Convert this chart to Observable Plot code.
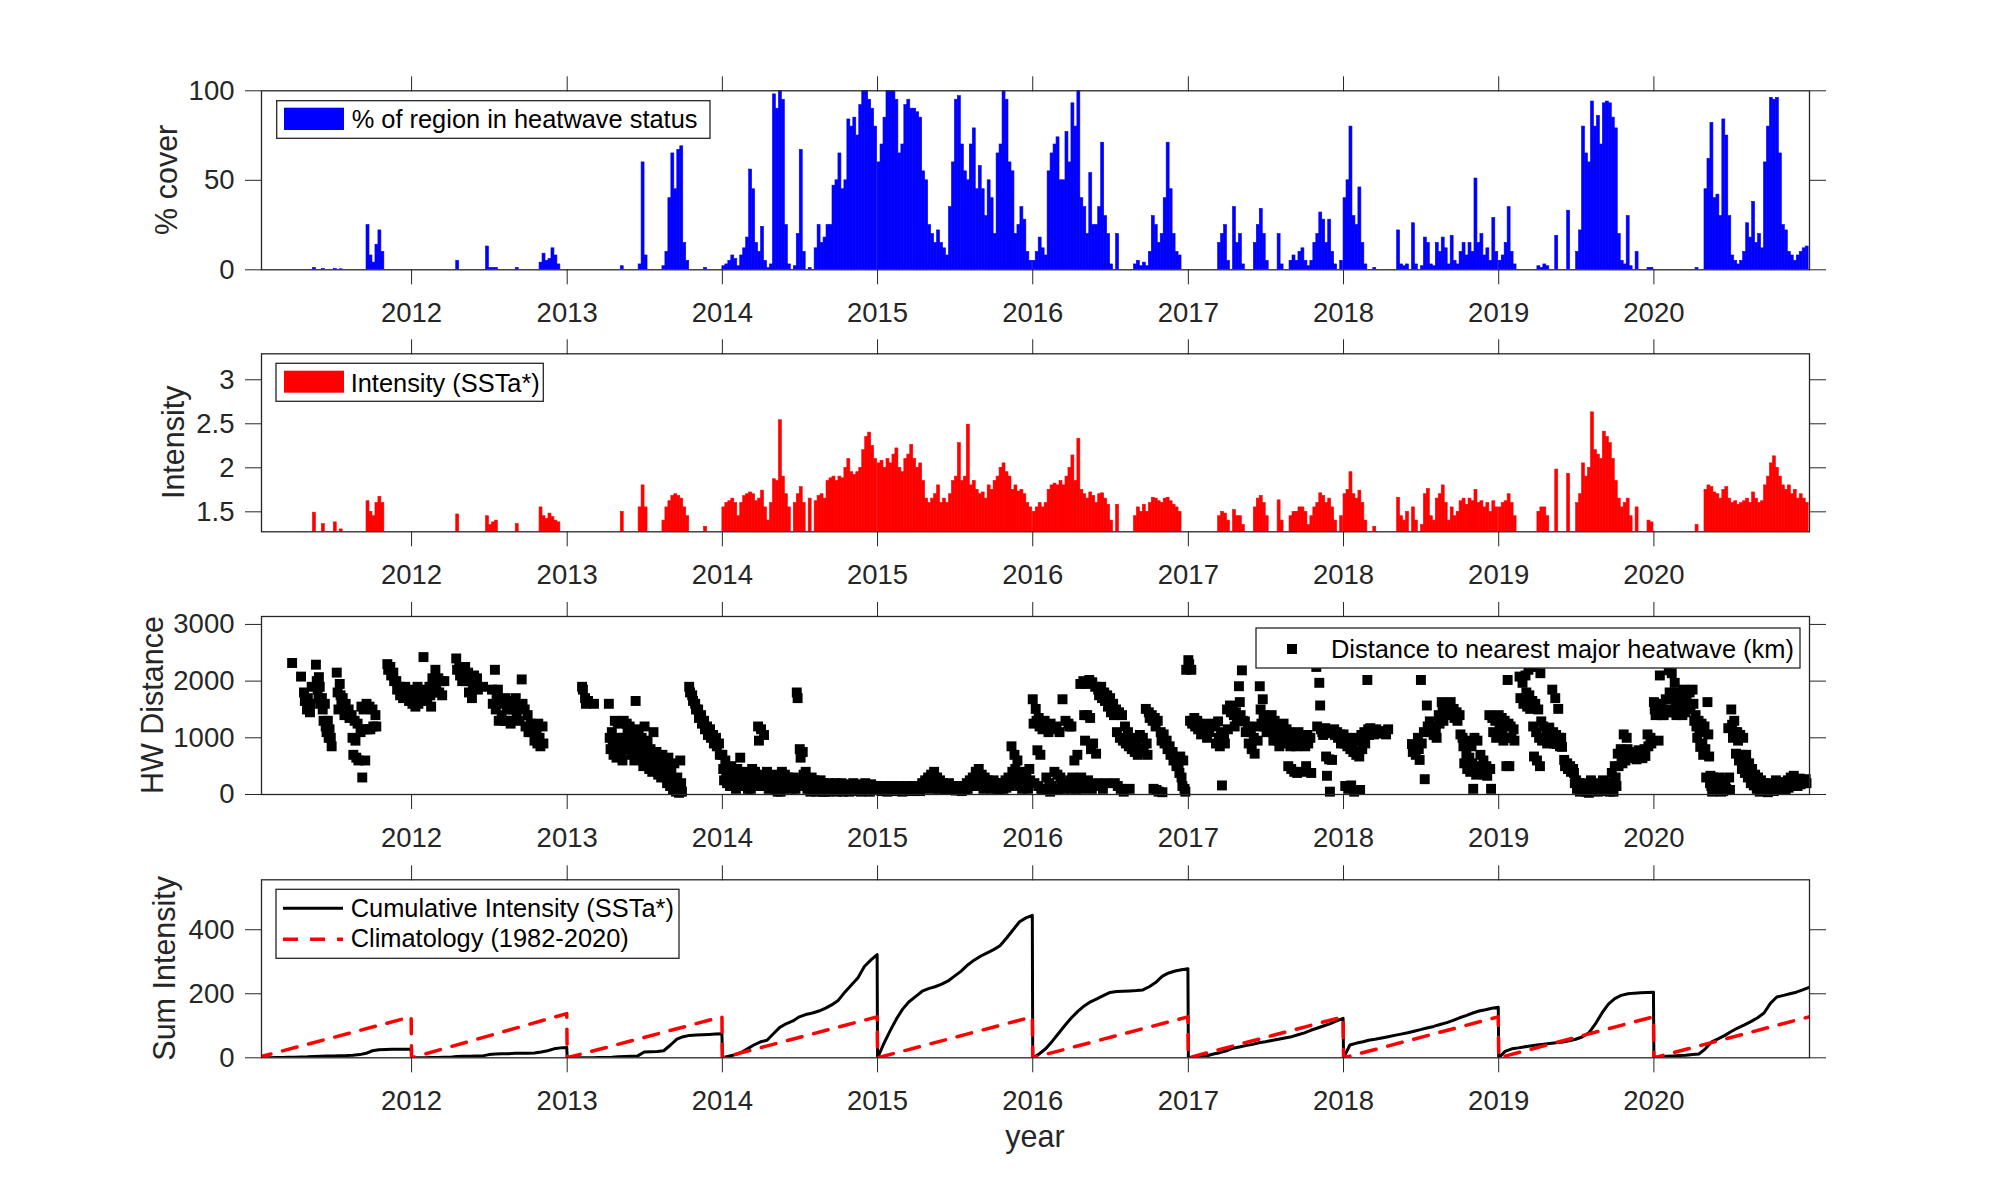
<!DOCTYPE html>
<html><head><meta charset="utf-8">
<script src="https://cdn.jsdelivr.net/npm/d3@7"></script>
<script src="https://cdn.jsdelivr.net/npm/@observablehq/plot@0.6"></script>
<style>
body{margin:0;background:#fff;}
#wrap{position:relative;width:2000px;height:1200px;font-family:"Liberation Sans",Arial,Helvetica,sans-serif;}
#wrap svg{position:absolute;left:0;top:0;}
</style></head><body><div id="wrap"></div>
<script>
// ---------- DATA (weekly values) ----------
const years = [2011,2012,2013,2014,2015,2016,2017,2018,2019,2020];
const tickYears = [2012,2013,2014,2015,2016,2017,2018,2019,2020];

// % of region in heatwave status, weekly (52 weeks per year)
const cover2011 = [0,0,0,0,0,0,0,0,0,0, 0,0,0,0,0,0,0,0,0,1, 0,0,0.5,0,0,0,0.5,0,0.3,0, 0,0,0,0,0,0,0,25,8,4, 14,22,10,0,0,0,0,0,0,0, 0,0];
const cover2012 = [0,0,0,0,0,0,0,0,0,0, 0,0,0,0,0,5,0,0,0,0, 0,0,0,0,0,13,1,1,1,0, 0,0,0,0,0,1,0,0,0,0, 0,0,0,4,9,5,6,12,8,3, 0,0];
const cover2013 = [0,0,0,0,0,0,0,0,0,0, 0,0,0,0,0,0,0,0,2,0, 0,0,0,0,3,60,8,0,0,0, 0,0,2,10,40,65,45,67,69,15, 5,0,0,0,0,0,1,0,0,0, 0,0];
const cover2014 = [2,3,5,8,6,2,8,12,18,56, 45,15,10,24,5,1,3,98,90,100, 95,25,3,0,2,20,67,10,0,1, 0,12,25,15,18,25,25,47,50,65, 45,50,84,80,85,75,92,100,100,95, 90,80];
const cover2015 = [60,70,85,100,100,100,95,65,70,92, 95,90,90,88,85,55,50,25,20,15, 22,15,12,8,35,60,95,97,70,55, 50,70,79,45,58,45,30,50,40,20, 65,70,100,95,60,55,20,25,35,28, 10,5];
const cover2016 = [5,10,18,12,8,55,65,70,74,50, 50,77,60,93,80,100,40,35,20,54, 25,25,35,71,30,20,3,0,20,0, 0,0,0,0,3,5,2,4,2,10, 30,25,15,20,40,71,45,20,10,8, 0,0];
const cover2017 = [0,0,0,0,0,0,0,0,0,0, 15,20,25,5,0,35,15,20,3,0, 0,0,15,25,34,20,5,0,0,0, 20,3,0,0,5,8,5,10,12,5, 2,5,15,20,32,28,15,28,10,3, 0,5];
const cover2018 = [40,50,80,30,25,46,15,3,0,0, 1,0,0,0,0,0,0,0,22,3, 2,3,0,26,3,0,2,18,15,3, 2,15,10,18,12,3,19,5,3,10, 15,8,15,10,51,15,20,8,12,5, 29,10];
const cover2019 = [5,8,15,35,10,3,0,0,0,0, 0,0,0,2,1,3,2,0,0,19, 0,0,0,33,0,0,10,22,80,65, 60,94,80,86,70,93,94,93,85,79, 20,5,3,30,2,0,10,0,0,0, 1,1];
const cover2020 = [0,0,0,0,0,0,0,0,0,0, 0,0,0,0,1,0,0,45,62,82, 40,42,30,84,75,30,8,5,3,5, 10,26,18,38,15,20,12,60,80,96, 95,96,65,25,22,10,8,5,8,10, 12,13];

// Intensity (SSTa*), weekly
const int2011 = [0,0,0,0,0,0,0,0,0,0, 0,0,0,0,0,0,0,0,0,1.49, 0,0,1.36,0,0,0,1.38,0,1.3,0, 0,0,0,0,0,0,0,1.62,1.5,1.45, 1.6,1.67,1.6,0,0,0,0,0,0,0, 0,0];
const int2012 = [0,0,0,0,0,0,0,0,0,0, 0,0,0,0,0,1.47,0,0,0,0, 0,0,0,0,0,1.45,1.35,1.38,1.4,0, 0,0,0,0,0,1.36,0,0,0,0, 0,0,0,1.55,1.45,1.42,1.48,1.44,1.4,1.38, 0,0];
const int2013 = [0,0,0,0,0,0,0,0,0,0, 0,0,0,0,0,0,0,0,1.5,0, 0,0,0,0,1.55,1.8,1.55,0,0,0, 0,0,1.4,1.55,1.62,1.68,1.7,1.68,1.65,1.55, 1.45,0,0,0,0,0,1.33,0,0,0, 0,0];
const int2014 = [1.55,1.6,1.62,1.65,1.6,1.45,1.6,1.68,1.7,1.72, 1.7,1.62,1.65,1.74,1.55,1.4,1.6,1.87,1.85,2.54, 1.9,1.7,1.55,0,1.6,1.7,1.78,1.6,0,1.65, 0,1.62,1.68,1.7,1.65,1.85,1.88,1.9,1.85,1.9, 1.88,2.0,2.1,1.95,1.92,1.95,2.0,2.2,2.35,2.4, 2.25,2.1];
const int2015 = [2.05,2.08,2.0,2.1,2.05,2.15,2.22,2.0,1.95,2.1, 2.15,2.26,2.1,2.0,2.05,1.85,1.65,1.6,1.65,1.7, 1.8,1.6,1.65,1.6,1.7,1.85,1.9,2.28,1.85,1.9, 2.49,1.8,1.85,1.75,1.7,1.72,1.65,1.8,1.75,1.85, 1.9,2.0,2.05,1.95,1.9,1.75,1.8,1.73,1.75,1.7, 1.6,1.55];
const int2016 = [1.5,1.55,1.6,1.55,1.6,1.75,1.8,1.82,1.8,1.85, 1.8,1.9,2.0,2.14,1.85,2.33,1.75,1.7,1.65,1.72, 1.68,1.6,1.7,1.71,1.65,1.58,1.4,0,1.58,0, 0,0,0,0,1.45,1.55,1.5,1.58,1.5,1.6, 1.66,1.65,1.62,1.6,1.65,1.66,1.62,1.58,1.55,1.5, 0,0];
const int2017 = [0,0,0,0,0,0,0,0,0,0, 1.45,1.5,1.48,1.4,0,1.52,1.45,1.45,1.35,0, 0,0,1.55,1.65,1.68,1.6,1.45,0,0,0, 1.63,1.4,0,0,1.45,1.5,1.5,1.55,1.55,1.5, 1.35,1.45,1.55,1.6,1.71,1.68,1.6,1.65,1.55,1.4, 0,1.45];
const int2018 = [1.7,1.75,1.95,1.7,1.65,1.74,1.6,1.4,0,0, 1.33,0,0,0,0,0,0,0,1.66,1.45, 1.4,1.5,0,1.55,1.4,0,1.35,1.7,1.76,1.45, 1.4,1.65,1.7,1.8,1.6,1.4,1.55,1.45,1.5,1.62, 1.65,1.58,1.65,1.62,1.75,1.6,1.62,1.55,1.6,1.5, 1.62,1.55];
const int2019 = [1.55,1.6,1.62,1.7,1.6,1.45,0,0,0,0, 0,0,0,1.5,1.55,1.55,1.45,0,0,1.98, 0,0,0,1.93,0,0,1.6,1.7,2.05,1.9, 2.0,2.63,2.2,2.15,2.1,2.41,2.35,2.28,2.1,1.85, 1.65,1.55,1.6,1.65,1.45,0,1.55,0,0,0, 1.4,1.38];
const int2020 = [0,0,0,0,0,0,0,0,0,0, 0,0,0,0,1.35,0,0,1.75,1.8,1.78, 1.72,1.7,1.65,1.75,1.78,1.65,1.6,1.62,1.58,1.6, 1.62,1.65,1.6,1.72,1.65,1.6,1.62,1.8,1.9,2.05, 2.13,2.0,1.9,1.8,1.75,1.8,1.7,1.75,1.65,1.7, 1.65,1.6];

// Distance to nearest major heatwave (km): [week, values seen in that week...]
const dist2011 = [[12,2320],[15,2080],[16,1800,1650],[17,1500,1700],[18,1450,1600,1900],[20,2290,2000,1850,1700],[21,2070,1900,1600],[22,1700,1500,1300],[23,1600,1200,1100],[24,1300,1000,1150],[25,1000,850],[27,2150,1800,1500],[28,1950,1750,1600],[29,1700,1550,1400],[30,1600,1450],[31,1500,1350],[32,1400,1000,700],[33,1300,950,650],[34,1250,600],[35,1100,1550,300],[36,1500,1150,600],[37,1600,1150],[38,1550,1150],[39,1500,1200],[40,1400,1200],[44,2300,2200],[45,2250,2100],[46,2150,2000],[47,2000,1850],[48,1900,1750],[49,1850,1700],[50,1900,1750],[51,1800,1650]];
const dist2012 = [[0,1850,1600],[1,1750,1550],[2,1900,1600],[3,1800,1700],[4,2424,1750],[5,1850,1650],[6,1900,1750,1550],[7,2050,1800],[8,2200,1900],[9,2050,1800],[10,2000,1750],[11,2000],[15,2400,2200],[16,2250,2100],[17,2000,2150],[18,2250,2000],[19,2150,1800],[20,2000,1700,1900],[21,2100,1900],[22,2050,1850],[24,1900],[27,1850,1600],[28,2200,1500,1700],[29,1850,1300],[30,1650,1400],[31,1600,1300,1700],[32,1500,1300],[33,1650,1250],[34,1500],[35,1700,1400],[36,1550,1300],[37,2030,1600],[38,1500,1200],[39,1400,1100],[40,1250,1100],[41,1200,950],[42,1100,900,1250],[43,1000,850],[44,1200,900]];
const dist2013 = [[5,1900,1850],[6,1700,1600],[7,1650],[9,1600],[14,1600,1000,800],[15,1100,900,700],[16,1300,800,650],[17,1250,1000,700],[18,900,750,600],[19,1300,1000,800],[20,1250,1100,850],[21,1200,950,700],[22,1050,800,600],[23,1650,1000,750],[24,1150,850,650],[25,1000,700,500],[26,1200,800],[27,950,650,450],[28,800,600,400],[29,1100,700,550],[30,750,500,350],[31,600,450,300],[32,700,400],[33,500,300,200],[34,650,350,150],[35,400,200,80],[36,550,150,50],[37,300,100,30],[38,600,200,50],[41,1900,1800],[42,1750,1650],[43,1600,1500],[44,1500,1350],[45,1400,1250],[46,1300,1150],[47,1200,1050],[48,1150,1000],[49,1050,900],[50,1000,850],[51,900,700]];
const dist2014 = [[0,700,450,250],[1,600,350,200],[2,400,250,150],[3,500,300,150],[4,350,200,100],[5,450,250,150],[6,650,300,200],[7,400,250,150],[8,300,200,100],[9,350,200,100],[10,450,300,150],[11,400,250],[12,1200,950,300,150],[13,1150,350,200],[14,1050,250,150],[15,400,200,100],[16,300,150],[17,350,200,100],[18,250,150,50],[19,300,150,50],[20,400,200,100],[21,350,200],[22,300,150],[23,250,100],[24,300,200,100],[25,1800,1700,250],[26,800,650,200],[27,750,350,150],[28,400,200,100],[29,250,150,50],[30,300,150,80],[31,250,100,50],[32,200,100],[33,250,150,50],[34,200,100,50],[35,150,100,50],[36,200,100],[37,150,80],[38,200,100,50],[39,150,100],[40,200,100,50],[41,150,80],[42,180,100,50],[43,150,100],[44,200,120,60],[45,150,100],[46,180,100,50],[47,150,80],[48,200,120,60],[49,150,100,50],[50,180,100],[51,150,80]];
const dist2015 = [[0,150,80],[1,120,60],[2,150,80],[3,100,50],[4,130,70],[5,150,80],[6,120,60],[7,150,80],[8,100,50],[9,130,70],[10,150,80],[11,120,60],[12,150,80],[13,130,70],[14,150,60],[15,200,100],[16,250,150],[17,300,150],[18,350,200,100],[19,400,250,150],[20,300,200,100],[21,250,150],[22,200,100],[23,150,80],[24,200,100],[25,150,80],[26,130,70],[27,150,80],[28,120,60],[29,150,80],[30,200,100],[31,250,150],[32,300,150],[33,400,250,150],[34,450,300,200],[35,350,200,100],[36,300,150],[37,250,150],[38,200,100],[39,250,150],[40,200,100],[41,150,80],[42,200,100],[43,250,120],[44,300,150],[45,850,400,200],[46,700,450,250],[47,600,350,150],[48,400,200,100],[49,300,150],[50,350,200,100],[51,450,250]];
const dist2016 = [[0,1680,1250,200],[1,1510,1300,780,150],[2,1350,1200,700,100],[3,1250,1150,100],[4,1300,1200,300,80],[5,1200,1100,200,50],[6,1250,150],[7,1150,400,100],[8,1200,350,80],[9,1100,300,150],[10,1680,200,100],[11,1300,150],[12,1250,1200,250,100],[13,1200,300,150],[14,600,200,100],[15,700,250],[16,1950,300,100],[17,2000,1400,950,200],[18,1950,1400,250],[19,2020,1350,800,100],[20,1980,900,150],[21,1900,720,200],[22,1850,1750,150],[23,1900,1700,100],[24,1800,1650,200],[25,1750,1550],[26,1700,1450],[27,1600,1400,200],[28,1500,1100,150],[29,1450,1000,100],[30,1400,950,50],[31,1200,900],[32,1100,850,100],[33,1000,800],[34,950,750],[35,900,700],[36,1050,800],[37,1000,750],[38,1510,900,700],[39,1450,1350],[40,1400,1300,100],[41,1350,1200,80],[42,1300,50],[43,1100,950,40],[44,1060,900],[45,950,800],[46,850,700],[47,750,600],[48,650,500],[49,500,380,670],[50,300,150,600],[51,100,50,2200]];
const dist2017 = [[0,2370,2300,1300],[1,2200,1250],[2,1350,1200],[3,1300,1150],[4,1250,1060],[5,1200,1100],[6,1150,1000],[7,1100,1250],[9,1200,900],[10,1290,1000,850],[11,1100,160],[12,1000,900],[13,1500,1150],[14,1570,1450],[15,1500,1400,1200],[16,1450,1300],[17,1910,1630,1400],[18,2190,1300],[19,1290,1100],[20,1200,900],[21,1100,800],[22,1000,720],[23,1200,950],[24,1910,1500,1250],[25,1680,1400,1200],[26,1300,1100],[27,1250,1180],[28,1400,1100,950],[29,1300,1000],[30,1200,950,850],[31,1100,900],[32,1250,1000],[33,1150,950,500],[34,1100,850,450],[35,1050,900,400],[36,1000,850,380],[37,1100,900],[38,1000,400],[39,950,850,500],[40,1050,900],[41,1000,380],[43,2250,1200],[44,1970,1570,1150],[45,1100,1050],[46,1170,670,330],[47,1100,620,50],[48,1080,610],[49,1150,1050],[50,1100,1000],[51,1060,900]];
const dist2018 = [[0,1060,900,150],[1,1000,850,100],[2,950,800,160],[3,900,750,50],[4,1000,700],[5,950,670,80],[6,1050,800],[7,1100,900],[8,2020,1150,1050],[9,1170,1100],[10,1100,1060],[11,1150,1080],[12,1100],[13,1120,1080],[14,1100,1060],[15,1150],[23,890,750],[24,850,700],[25,1000,800,610],[26,2020,900],[27,1100,270],[28,1570,1200],[29,1290,1100],[30,1200,1050],[31,1150,1000],[32,1400,1250],[33,1630,1500,1300],[34,1600,1450],[35,1550,1400],[36,1630,1450],[37,1510,1350],[38,1450,1300],[39,1400,1060],[40,1000,850,550],[41,950,700,450],[42,900,650,400],[43,850,550,100],[44,1000,500,350],[45,950,450],[46,700,400],[47,600,350],[48,500,330],[49,1400,450,100],[50,1350,1100],[51,1300,1000]];
const dist2019 = [[0,1400,1200,1050],[1,1350,1100,950],[2,1300,1000,500],[3,2020,1250,500],[4,1200,1000],[5,1150,950],[7,2080,1700],[8,1970,1600],[9,2100,1800,1550],[10,2200,1750,1510],[11,2250,1650,1200,670],[12,2300,1600,1100,600],[13,2360,1500,1000,500],[14,2140,1290,950],[15,1200,1000],[16,1100,900],[17,1180,950],[18,1850,1100,900],[19,1700,1050,890],[20,1510,1000,850],[21,1000,840],[22,610,500],[23,550,450],[24,500,400],[25,450,380,200],[26,250,100],[27,200,50],[28,150,80],[29,200,50],[30,150,30],[31,250,100],[32,180,60],[33,200,50],[34,150,80],[35,250,100],[36,200,60],[37,150,50],[38,380,200,50],[39,500,300,150],[40,720,500],[41,800,650,550],[42,1060,750,600],[43,1000,800,650],[44,700,650],[45,750,650],[46,700,620],[47,780,650],[48,750,640],[49,800,680],[50,1060,850],[51,1000,900]];
const dist2020 = [[0,1630,1500,1400],[1,1600,1450,950],[2,2100,1550,1400],[3,1500,1400],[4,1680,1450],[5,2190,1800,1500],[6,2140,1700,1450],[7,1970,1650,1400],[8,1800,1550],[9,1700,1500,1400],[10,1850,1600,1450],[11,1750,1510],[12,1800,1550],[13,1850,1600,1300],[14,1400,1200,1000],[15,1300,1100,840],[16,1250,900,700],[17,1200,800,300],[18,1630,1060,670,200],[19,330,150,50],[20,300,100],[21,250,80],[22,300,120,50],[23,200,60],[24,250,100],[25,1170,300,80],[26,1500,1230,1000],[27,1300,1100,720],[28,1100,950,600],[29,1050,700,450],[30,1000,600,380],[31,700,440,300],[32,550,350,200],[33,450,270,160],[34,350,200,100],[35,300,150,50],[36,250,100],[37,200,60],[38,150,40],[39,200,80],[40,180,60],[41,250,100],[42,200,80],[43,220,100],[44,180,80],[45,250,120],[46,300,150],[47,330,200],[48,250,150],[49,280,180],[50,250,200],[51,270,200]];

// Cumulative intensity: 1st & 16th of each month, then Dec 31
const cum2011 = [0,0,0.5,1,1,1.5,2,2.5,3,4,5,5.5,6,6.5,7,8,10,14,22,25,26,26.5,27,27,27];
const cum2012 = [0,0,0.5,1,1,1.5,2,4,5,5,5.5,6,10,12,13,13,14,14,14.5,15,18,22,28,31,32];
const cum2013 = [0,0,0,0,0.5,1,1,1.5,3,4,5,6,18,19,20,22,40,58,66,70,71,72,73,74,75];
const cum2014 = [0,5,10,18,28,40,50,55,75,95,107,115,128,135,140,146,155,166,180,205,228,250,285,305,322];
const cum2015 = [0,45,88,125,152,175,192,208,216,222,230,240,255,270,290,305,318,328,338,350,375,400,425,437,445];
const cum2016 = [0,12,29,52,75,100,125,145,162,175,185,195,204,207,208,209,210,212,222,235,255,265,271,275,278];
const cum2017 = [0,2,4,7,12,16,22,30,34,38,42,47,50,54,58,62,66,72,78,86,93,100,107,115,123];
const cum2018 = [0,40,46,50,55,58,62,66,70,74,78,83,88,93,98,104,110,117,125,132,140,146,150,155,158];
const cum2019 = [0,20,28,31,34,37,40,42,45,47,49,53,58,65,78,105,140,168,185,195,200,202,203,204,205];
const cum2020 = [0,3,5,6,7,8,10,12,28,50,60,70,82,93,103,113,125,140,170,190,195,200,205,212,220];

// Climatology (1982-2020): value on Jan 1 and on Dec 31 of each year
const climStart = [0,0,0,0,0,0,0,0,0,0];
const climEnd = [128,138,128,128,128,128,128,128,128,128];

// ---------- BUILD TABLES ----------
const coverByYear = [cover2011,cover2012,cover2013,cover2014,cover2015,cover2016,cover2017,cover2018,cover2019,cover2020];
const intByYear = [int2011,int2012,int2013,int2014,int2015,int2016,int2017,int2018,int2019,int2020];
const distByYear = [dist2011,dist2012,dist2013,dist2014,dist2015,dist2016,dist2017,dist2018,dist2019,dist2020];
const cumByYear = [cum2011,cum2012,cum2013,cum2014,cum2015,cum2016,cum2017,cum2018,cum2019,cum2020];

const dayOf = (y, d) => new Date(Date.UTC(y, 0, 1 + d));
const weekRows = (arr) => {
  const rows = [];
  years.forEach((y, i) => arr[i].forEach((v, w) => { if (v > 0) rows.push({x1: dayOf(y, w*7), x2: dayOf(y, w*7+7), v}); }));
  return rows;
};
const coverRows = weekRows(coverByYear);
const intRows = weekRows(intByYear);
const distRows = [];
years.forEach((y, i) => distByYear[i].forEach(([w, ...vals]) => vals.forEach((v, j) => distRows.push({date: dayOf(y, w*7 + j*2), v}))));
const cumRows = [];
years.forEach((y, i) => cumByYear[i].forEach((v, k) => {
  const date = k < 24 ? new Date(Date.UTC(y, Math.floor(k/2), k % 2 ? 16 : 1)) : new Date(Date.UTC(y, 11, 31));
  cumRows.push({date, v});
}));
const climRows = [];
years.forEach((y, i) => { climRows.push({date: new Date(Date.UTC(y,0,1)), v: climStart[i]}); climRows.push({date: new Date(Date.UTC(y,11,31)), v: climEnd[i]}); });

// ---------- PLOTS ----------
const W = 2000, H = 1200, ML = 261, MR = 191;
const FONT = '"Liberation Sans", Arial, Helvetica, sans-serif';
const AX = "#262626";
const yearTicks = tickYears.map(y => new Date(Date.UTC(y,0,1)));
const xDomain = [new Date(Date.UTC(2011,0,13)), new Date(Date.UTC(2021,0,1))];
const wrap = document.getElementById("wrap");

function panel(top, bottom, yDomain, yTicks, marks) {
  const p = Plot.plot({
    width: W, height: H, marginLeft: ML, marginRight: MR, marginTop: top, marginBottom: H - bottom,
    style: {background: "transparent", overflow: "visible", fontFamily: FONT, color: AX},
    x: {type: "utc", domain: xDomain},
    y: {domain: yDomain},
    marks: [
      ...marks,
      Plot.frame({stroke: AX, strokeWidth: 1.3}),
      Plot.axisX({anchor: "bottom", ticks: yearTicks, tickSize: 15, tickPadding: 18, fontSize: 27.5, tickFormat: d => String(d.getUTCFullYear()), label: null}),
      Plot.axisX({anchor: "top", ticks: yearTicks, tickSize: 15, tickFormat: () => "", label: null}),
      Plot.axisY({anchor: "left", ticks: yTicks, tickSize: 16, tickPadding: 11, fontSize: 27.5, tickFormat: d => String(d), label: null}),
      Plot.axisY({anchor: "right", ticks: yTicks, tickSize: 16, tickFormat: () => "", label: null})
    ]
  });
  wrap.appendChild(p);
}

panel(90.3, 269.3, [0, 100], [0, 50, 100], [
  Plot.rect(coverRows, {x1: "x1", x2: "x2", y1: 0, y2: "v", fill: "#0000ff", stroke: "#0000ff", strokeWidth: 0.6, clip: true})
]);
panel(353.3, 531.3, [1.273, 3.295], [1.5, 2, 2.5, 3], [
  Plot.rect(intRows, {x1: "x1", x2: "x2", y1: 0, y2: "v", fill: "#ff0000", stroke: "#ff0000", strokeWidth: 0.6, clip: true})
]);
panel(616, 794, [0, 3140], [0, 1000, 2000, 3000], [
  Plot.dot(distRows, {x: "date", y: "v", symbol: "square", r: 5.6, fill: "#000000"})
]);
panel(879.3, 1057.3, [0, 556], [0, 200, 400], [
  Plot.line(cumRows, {x: "date", y: "v", stroke: "#000000", strokeWidth: 3, clip: true}),
  Plot.line(climRows, {x: "date", y: "v", stroke: "#ff0000", strokeWidth: 3.5, strokeDasharray: "15,12", clip: true})
]);

// ---------- LEGENDS & LABELS ----------
const ov = d3.select(wrap).append("svg").attr("width", W).attr("height", H)
  .style("font-family", FONT);
function box(x1, y1, x2, y2) {
  ov.append("rect").attr("x", x1).attr("y", y1).attr("width", x2 - x1).attr("height", y2 - y1)
    .attr("fill", "#fff").attr("stroke", AX).attr("stroke-width", 1.3);
}
function txt(x, y, s, size = 25.4, fill = "#000") {
  ov.append("text").attr("x", x).attr("y", y).attr("font-size", size).attr("fill", fill).text(s);
}
box(276.7, 100.7, 710, 138.3);
ov.append("rect").attr("x", 284).attr("y", 107.7).attr("width", 60).attr("height", 22.3).attr("fill", "#0000ff");
txt(351.7, 128.3, "% of region in heatwave status");

box(276, 363.3, 543.3, 401.3);
ov.append("rect").attr("x", 284).attr("y", 370.7).attr("width", 60).attr("height", 22).attr("fill", "#ff0000");
txt(350.7, 391.5, "Intensity (SSTa*)");

box(1256, 628, 1800, 668);
ov.append("rect").attr("x", 1287).attr("y", 644).attr("width", 10).attr("height", 10).attr("fill", "#000");
txt(1331, 658, "Distance to nearest major heatwave (km)");

box(276, 889.3, 679, 958.3);
ov.append("line").attr("x1", 283).attr("x2", 343).attr("y1", 908.3).attr("y2", 908.3).attr("stroke", "#000").attr("stroke-width", 3);
ov.append("line").attr("x1", 283).attr("x2", 343).attr("y1", 939.3).attr("y2", 939.3).attr("stroke", "#ff0000").attr("stroke-width", 3.5).attr("stroke-dasharray", "15,12");
txt(350.7, 916.7, "Cumulative Intensity (SSTa*)");
txt(350.7, 947.3, "Climatology (1982-2020)");

function ylab(xBase, yc, s) {
  ov.append("text").attr("transform", `translate(${xBase},${yc}) rotate(-90)`)
    .attr("text-anchor", "middle").attr("font-size", 30.5).attr("fill", AX).text(s);
}
ylab(177.3, 179.8, "% cover");
ylab(183.5, 442.3, "Intensity");
ylab(163.3, 705, "HW Distance");
ylab(174.5, 968.3, "Sum Intensity");
ov.append("text").attr("x", 1035).attr("y", 1147).attr("text-anchor", "middle").attr("font-size", 30.5).attr("fill", AX).text("year");
</script></body></html>
